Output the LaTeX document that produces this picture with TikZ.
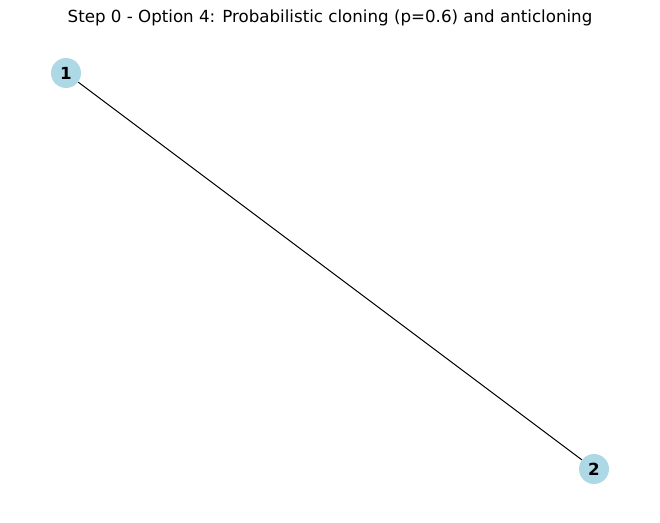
\documentclass[tikz,border=0pt]{standalone}
\usepackage{fontspec}
\setmainfont{DejaVu Sans}
\definecolor{lightblue}{HTML}{ADD8E6}
\begin{document}
\begin{tikzpicture}[x=0.75pt, y=0.75pt, vertex/.style={circle, fill=lightblue, minimum size=22.5pt, inner sep=0pt, font=\fontsize{12.5}{14}\selectfont\bfseries}]
        \useasboundingbox (0,0) rectangle (660,522);
        \node[font=\fontsize{12.5}{14}\selectfont] (title) at (330,504) {Step 0 - Option 4: Probabilistic cloning (p=0.6) and anticloning};
        \node[vertex] (1) at (66,449) {1};
        \node[vertex] (2) at (594,53) {2};
        \draw[line width=0.75pt] (1) -- (2);
    \end{tikzpicture}
\end{document}
